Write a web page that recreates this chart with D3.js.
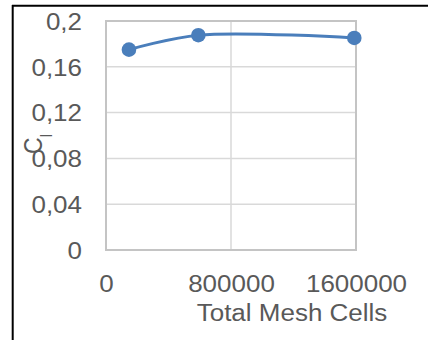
<!DOCTYPE html>
<html>
<head>
<meta charset="utf-8">
<script src="https://cdn.jsdelivr.net/npm/d3@7"></script>
<style>
  html, body { margin: 0; padding: 0; background: #fff; }
  svg { display: block; }
  text { font-family: "Liberation Sans", Arial, sans-serif; fill: #595959; }
</style>
</head>
<body>
<script>
// Mesh convergence: lift coefficient vs. total mesh cell count
const meshCells = [147000, 591000, 1589000];
const liftCoeff = [0.175, 0.1876, 0.1852];
const xTicks = [0, 800000, 1600000];
const yTicks = [0, 0.04, 0.08, 0.12, 0.16, 0.2];
const xTitle = "Total Mesh Cells";

const W = 428, H = 340;
const plot = { left: 106, right: 356, top: 21, bottom: 250 };
const stretch = 1.13;           // slightly wide label glyphs
const fmt = d => String(d).replace(".", ",");

const svg = d3.select("body").append("svg").attr("width", W).attr("height", H);

const x = d3.scaleLinear().domain([0, 1600000]).range([plot.left, plot.right]);
const y = d3.scaleLinear().domain([0, 0.2]).range([plot.bottom, plot.top]);

// outer frame (top and left edges)
svg.append("line").attr("x1", 12).attr("x2", W).attr("y1", 5.8).attr("y2", 5.8)
  .attr("stroke", "#000").attr("stroke-width", 2);
svg.append("line").attr("x1", 12.7).attr("x2", 12.7).attr("y1", 5).attr("y2", H)
  .attr("stroke", "#000").attr("stroke-width", 2);

// gridlines
const grid = svg.append("g");
grid.selectAll("line.h").data(yTicks.filter(d => d > 0 && d < 0.2)).join("line")
  .attr("x1", plot.left).attr("x2", plot.right)
  .attr("y1", d => y(d)).attr("y2", d => y(d))
  .attr("stroke", "#d9d9d9").attr("stroke-width", 1.5);
grid.selectAll("line.v").data(xTicks.filter(d => d > 0 && d < 1600000)).join("line")
  .attr("x1", d => x(d)).attr("x2", d => x(d))
  .attr("y1", plot.top).attr("y2", plot.bottom)
  .attr("stroke", "#d9d9d9").attr("stroke-width", 1.5);

// plot area border
svg.append("rect")
  .attr("x", plot.left).attr("y", plot.top)
  .attr("width", plot.right - plot.left).attr("height", plot.bottom - plot.top)
  .attr("fill", "none").attr("stroke", "#c4c4c4").attr("stroke-width", 2);

// y axis
const yAxis = svg.append("g").attr("transform", `translate(${plot.left},0)`)
  .call(d3.axisLeft(y).tickValues(yTicks).tickSize(0).tickFormat(fmt));
yAxis.select(".domain").remove();
yAxis.selectAll("text")
  .attr("x", -24 / stretch).attr("dy", "0.36em")
  .attr("transform", `scale(${stretch},1)`)
  .style("font-size", "23px").attr("fill", "#595959");

// x axis
const xAxis = svg.append("g").attr("transform", `translate(0,${plot.bottom})`)
  .call(d3.axisBottom(x).tickValues(xTicks).tickSize(0).tickFormat(d => String(d)));
xAxis.select(".domain").remove();
xAxis.selectAll("text")
  .attr("y", 41.7).attr("dy", 0)
  .attr("transform", `scale(${stretch},1)`)
  .style("font-size", "23px").attr("fill", "#595959");

// axis titles
svg.append("text")
  .attr("transform", `translate(292,321) scale(${stretch},1)`)
  .attr("text-anchor", "middle").style("font-size", "23px")
  .text(xTitle);

const yTitle = svg.append("text")
  .attr("transform", `translate(42,144) rotate(-90) scale(1,${stretch})`)
  .attr("text-anchor", "middle").style("font-size", "23px");
yTitle.append("tspan").text("C");
yTitle.append("tspan").attr("baseline-shift", "-8px").style("font-size", "15px").text("l");

// series
const pts = meshCells.map((m, i) => [m, liftCoeff[i]]);
svg.append("path")
  .datum(pts)
  .attr("fill", "none").attr("stroke", "#4a7ebb").attr("stroke-width", 3)
  .attr("d", d3.line().x(d => x(d[0])).y(d => y(d[1])).curve(d3.curveCatmullRom.alpha(0.5)));
svg.selectAll("circle.pt").data(pts).join("circle")
  .attr("cx", d => x(d[0])).attr("cy", d => y(d[1])).attr("r", 7.3)
  .attr("fill", "#4a7ebb");
</script>
</body>
</html>
